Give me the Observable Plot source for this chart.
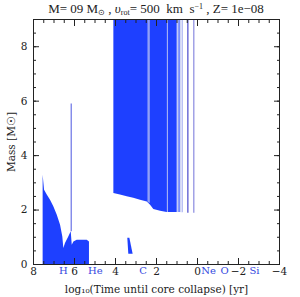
<!DOCTYPE html>
<html><head><meta charset="utf-8">
<script src="https://cdn.jsdelivr.net/npm/d3@7"></script>
<script src="https://cdn.jsdelivr.net/npm/@observablehq/plot@0.6"></script>
<style>
body{margin:0;background:#fff;}
#title{font-family:"Liberation Serif";font-size:13px;height:16px;line-height:17px;padding-left:33px;padding-right:21px;text-align:center;white-space:pre;color:#222;overflow:visible;}
#title sub,#title sup{font-size:8px;line-height:0;vertical-align:baseline;position:relative;}
#title sub{top:2px;}
#title sup{top:-4px;}
</style></head><body>
<div id="title">M= 09 M<sub>⊙</sub> , <i>υ</i><sub>rot</sub>= 500  km  s<sup>−1</sup> , Z= 1e−08</div>
<div id="chart"></div>
<script>
// ---- data ----
const hZoneX   = [7.53, 7.46, 7.33, 7.17, 7.01, 6.84, 6.68, 6.57, 6.52, 6.44, 6.28, 6.16, 6.11, 6.03, 5.87, 5.38, 5.27];
const hZoneTop = [3.28, 2.73, 2.55, 2.36, 2.12, 1.81, 1.44, 1.01, 0.59, 0.77, 1.01, 1.20, 0.71, 0.83, 0.89, 0.89, 0.83];

const bigX      = [4.08, 3.76, 3.43, 3.11, 2.78, 2.45, 2.29, 2.13, 1.80, 1.48, 0.99];
const bigBottom = [2.61, 2.55, 2.49, 2.43, 2.36, 2.30, 2.18, 2.02, 1.96, 1.91, 1.91];

const gapX      = [2.41, 2.36, 1.47];
const gapBottom = [2.28, 2.25, 1.91];

const stripeX      = [0.96, 0.90, 0.85, 0.80, 0.74, 0.47, 0.18];
const stripeKind   = ["pale", "full", "pale", "faint", "pale", "dark", "mid"];
const stripeBottom = [1.91, 1.91, 1.91, 1.90, 1.90, 1.88, 1.88];

const blobY     = [0.38, 0.96];
const blobLeft  = [3.35, 3.40];
const blobRight = [3.14, 3.30];

const lineX = [6.16];
const lineBottom = [1.20];
const lineTop = [5.9];

const burnNames = ["H", "He", "C", "Ne", "O", "Si"];
const burnX     = [6.54, 4.98, 2.66, -0.54, -1.32, -2.78];

const xMajor = [8, 6, 4, 2, 0, -2, -4];
const yMajor = [0, 2, 4, 6, 8];
const xDomain = [8, -4];
const yDomain = [0, 9];

// ---- build ----
const blue = "#1e40ff";
const hZone = hZoneX.map((x, i) => ({x, top: hZoneTop[i]}));
const big = bigX.map((x, i) => ({x, bottom: bigBottom[i]}));
const gaps = gapX.map((x, i) => ({x, bottom: gapBottom[i]}));
const stripes = stripeX.map((x, i) => ({x, kind: stripeKind[i], bottom: stripeBottom[i]}));
const blob = blobY.map((y, i) => ({y, l: blobLeft[i], r: blobRight[i]}));
const lines = lineX.map((x, i) => ({x, b: lineBottom[i], t: lineTop[i]}));
const burn = burnNames.map((n, i) => ({n, x: burnX[i]}));
const xMinor = d3.range(-4, 8.001, 0.5);
const yMinor = d3.range(0, 9.001, 0.5);
const stripeColor = {pale: "#b4bcf4", full: "#4060ff", faint: "#d6daf6", dark: "#4a4acc", mid: "#8a8ae0"};
const fmt = d => d < 0 ? "−" + (-d) : String(d);

const chart = Plot.plot({
  width: 300, height: 281,
  marginTop: 3, marginBottom: 33, marginLeft: 33, marginRight: 21,
  style: {fontFamily: "DejaVu Serif", fontSize: "10px", color: "#222", background: "#fff"},
  x: {domain: xDomain, label: null},
  y: {domain: yDomain, label: null},
  marks: [
    Plot.areaY(hZone, {x: "x", y1: 0, y2: "top", fill: blue}),
    Plot.areaY(big, {x: "x", y1: "bottom", y2: yDomain[1], fill: blue}),
    Plot.ruleX(gaps, {x: "x", y1: "bottom", y2: yDomain[1], stroke: "#b8c0f4", strokeWidth: 1}),
    ...Object.keys(stripeColor).map(k =>
      Plot.ruleX(stripes.filter(d => d.kind === k), {x: "x", y1: "bottom", y2: yDomain[1], stroke: stripeColor[k], strokeWidth: 1.2})),
    Plot.areaX(blob, {y: "y", x1: "l", x2: "r", fill: blue}),
    Plot.ruleX(lines, {x: "x", y1: "b", y2: "t", stroke: "#6a72e6", strokeWidth: 1.2}),
    Plot.frame({stroke: "#222"}),
    Plot.axisX(xMinor, {anchor: "bottom", tickSize: -3, tickFormat: () => "", label: null}),
    Plot.axisX(xMinor, {anchor: "top", tickSize: -3, tickFormat: () => "", label: null}),
    Plot.axisX(xMajor, {anchor: "bottom", tickSize: -6, tickFormat: () => "", label: null}),
    Plot.axisX(xMajor, {anchor: "top", tickSize: -6, tickFormat: () => "", label: null}),
    Plot.axisY(yMinor, {anchor: "left", tickSize: -3, tickFormat: () => "", label: null}),
    Plot.axisY(yMinor, {anchor: "right", tickSize: -3, tickFormat: () => "", label: null}),
    Plot.axisY(yMajor, {anchor: "left", tickSize: -6, tickFormat: () => "", label: null}),
    Plot.axisY(yMajor, {anchor: "right", tickSize: -6, tickFormat: () => "", label: null}),
    Plot.axisX(xMajor, {anchor: "bottom", tickSize: 0, tickPadding: 3, tickFormat: fmt, fontSize: 10.5,
      label: "log₁₀(Time until core collapse) [yr]", labelAnchor: "center", labelOffset: 28, labelArrow: "none"}),
    Plot.axisY(yMajor, {anchor: "left", tickSize: 0, tickPadding: 6, tickFormat: fmt, fontSize: 10.5,
      label: "Mass [M☉]", labelAnchor: "center", labelOffset: 26, labelArrow: "none"}),
    Plot.text(burn, {x: "x", text: "n", frameAnchor: "bottom", dy: 9, fill: "#3448e0", fontSize: 10})
  ]
});
document.getElementById("chart").appendChild(chart);
</script>
</body></html>
